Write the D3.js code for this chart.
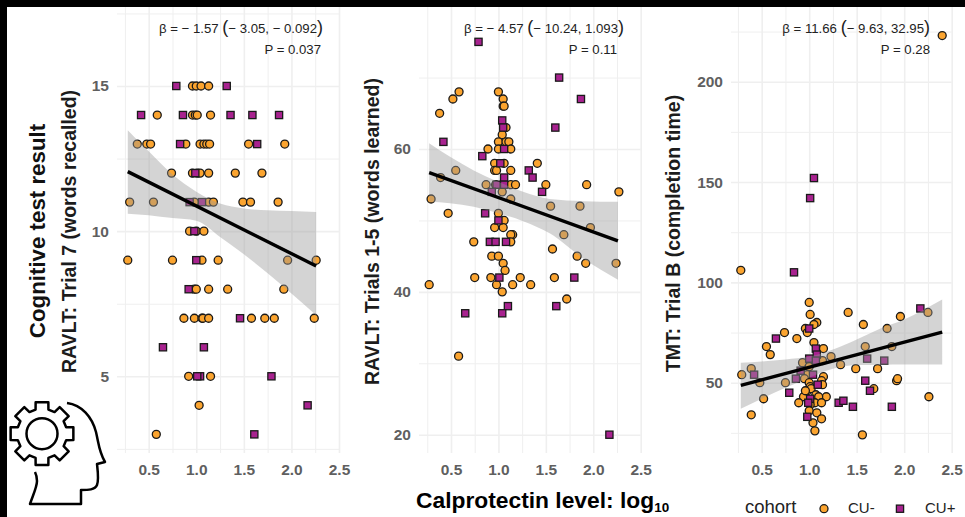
<!DOCTYPE html>
<html>
<head>
<meta charset="utf-8">
<script src="https://cdnjs.cloudflare.com/ajax/libs/d3/7.8.5/d3.min.js"></script>
<style>
html, body { margin: 0; padding: 0; background: #fff; }
svg { display: block; font-family: "Liberation Sans", Arial, sans-serif; }
</style>
</head>
<body>
<div id="chart"></div>
<script>
// Values: [log10 calprotectin, test result]
const trial7Neg = [[.96,15],[1,15],[1.05,15],[1.13,15],[.59,14],[.96,14],[.99,14],[1.01,14],[1.15,14],
  [.38,13],[.48,13],[.52,13],[.89,13],[1.04,13],[1.08,13],[1.11,13],[1.14,13],[1.55,13],[1.93,13],
  [.74,12],[.96,12],[1.01,12],[1.04,12],[1.13,12],[1.41,12],[1.69,12],
  [.3,11],[.55,11],[.98,11],[1.13,11],[1.18,11],[1.49,11],[1.57,11],[1.86,11],
  [.93,10],[1,10],[1.08,10],
  [.28,9],[.75,9],[1.06,9],[1.23,9],[1.96,9],[2.26,9],
  [.98,8],[1,8],[1.13,8],[1.33,8],[1.92,8],
  [.87,7],[.98,7],[1.06,7],[1.07,7],[1.13,7],[1.58,7],[1.72,7],[1.82,7],[2.24,7],
  [.92,5],[1.15,5],[1.03,4],[.58,3]];
const trial7Pos = [[.79,15],[1.32,15],[.42,14],[.86,14],[1.36,14],[1.59,14],[1.87,14],[.83,13],[1.64,13],
  [.99,12],[.93,11],[1.06,11],[.98,10],[1,9],[.92,8],[1.46,7],[.65,6],[1.08,6],
  [1.04,5],[1.01,5],[1.79,5],[2.17,4],[1.61,3]];
const trial7Line = [[.28,12.05],[2.26,8.8]];
const trial7Band = [[.28,13.48,10.6],[.5,12.75,10.55],[.75,11.95,10.45],[1,11.36,10.36],[1.25,10.95,9.8],
  [1.5,10.78,9.2],[1.75,10.72,8.55],[2,10.69,7.85],[2.26,10.66,7.1]];

const trials15Neg = [[.585,68],[.52,67],[.38,65],[1,68],[1.05,67],[1.05,66],[1.06,66],[1.08,63],[1.04,62],
  [1,61],[1.08,61],[1.11,61],[.89,60],[1,60],[1.13,60],[.96,58],[1.06,58],[1.41,58],[.96,57],[.98,57],
  [1.13,57],[.55,57],[.39,56],[.87,55],[.97,55],[1.13,55],[1.18,55],[1.5,55],[1.93,55],[2.27,54],[1.04,54],
  [.29,53],[1.13,53],[1.55,52],[1.86,52],[.47,51],[1,51],[1.06,50],[.96,49],[1.05,49],[1.97,49],[1.69,48],
  [1.15,48],[1.13,48],[.74,47],[1.13,47],[1.57,46],[1.83,45],[.93,45],[1,45],[1.92,44],[2.24,44],[1.05,44],
  [1.07,43],[.75,42],[.92,42],[1.23,42],[1.59,42],[.27,41],[.98,41],[1.15,41],[1.34,41],[1.04,40],[1.72,39],[.58,31]];
const trials15Pos = [[.79,75],[1.64,70],[1.87,67],[1.04,64],[1.05,63],[1.6,63],[.42,61],[1.06,60],[.83,59],
  [1.02,58],[1.32,57],[1.06,56],[1.36,56],[.98,55],[1.06,55],[.93,54],[1.46,54],[.86,51],[1,50],[.91,47],
  [.97,47],[1.08,47],[1.01,42],[1.8,42],[1.1,38],[1.61,38],[.65,37],[1.04,37],[2.17,20]];
const trials15Line = [[.27,56.7],[2.26,47.15]];
const trials15Band = [[.27,60.8,52.6],[.49,58.9,52.4],[.74,57,51.9],[1,55.4,51],[1.26,54,49.9],[1.54,53,48.2],
  [1.9,52.7,44.6],[2.26,52.6,41.7]];

const trailNeg = [[2.4,223],[.28,106],[1,90],[1.41,85],[1.01,84],[1.96,83],[2.25,85],[1.08,80],[1.05,79],[1.57,79],
  [.96,77],[1.82,77],[.74,75],[.98,75],[.87,72],[1.05,70],[.55,68],[1.15,67],[1.59,68],[1.87,68],[.59,64],[1.23,63],
  [.39,57],[.93,60],[1.14,61],[1.33,59],[1,58],[1.49,57],[1.72,57],[.29,54],[.98,54],[1.15,53],[.48,50],[.75,50],
  [.95,52],[1.13,51],[1.92,51],[1.93,52],[1,50],[1.01,48],[1.14,49],[1.68,47],[.98,46],[1.02,47],[1.07,44],[.94,43],
  [1.18,43],[1.1,43],[.52,42],[2.26,43],[.89,40],[1.06,40],[1.13,40],[1.01,39],[1,36],[1.08,35],[.39,34],[1.13,32],
  [1.04,30],[1.06,26],[1.56,24],[.96,46]];
const trailPos = [[.84,105],[1.05,152],[1.01,142],[2.17,87],[1,77],[.65,72],[1.07,67],[1.08,64],[1,62],[1.07,61],
  [1.61,62],[1.79,61],[.42,54],[.91,56],[1.04,54],[.86,52],[1.59,51],[1.09,49],[1.64,46],[.79,45],[1.01,42],[.99,40],
  [1.31,40],[1.36,41],[1.46,38],[1.87,38],[.98,33]];
const trailLine = [[.28,48.7],[2.4,75.2]];
const trailBand = [[.28,60,37],[.5,60.6,42],[.75,61.6,47.5],[1,63,52.5],[1.25,66.5,57],[1.5,71.5,58.8],
  [1.75,77,59],[2,81.5,59.1],[2.4,91.4,59.1]];

const xMajor = [0.5, 1, 1.5, 2, 2.5];
const xMinor = [0.25, 0.75, 1.25, 1.75, 2.25];

const panels = [
  { neg: trial7Neg, pos: trial7Pos, line: trial7Line, band: trial7Band,
    xr: [148.7, 339], left: 117,
    yd: [5, 15], yr: [376.3, 86], yMajor: [5, 10, 15], yMinor: [2.5, 7.5, 12.5, 17.5],
    title: "RAVLT: Trial 7 (words recalled)", titleX: 76, titleY: 231.5,
    beta: ["β = − 1.57 ", "(", "− 3.05, − 0.092", ")"], betaX: 323, pText: "P = 0.037", pX: 321 },
  { neg: trials15Neg, pos: trials15Pos, line: trials15Line, band: trials15Band,
    xr: [451, 640.7], left: 419,
    yd: [20, 60], yr: [434.7, 149], yMajor: [20, 40, 60], yMinor: [30, 50, 70],
    title: "RAVLT: Trials 1-5 (words learned)", titleX: 379, titleY: 231.5,
    beta: ["β = − 4.57 ", "(", "− 10.24, 1.093", ")"], betaX: 624, pText: "P = 0.11", pX: 617 },
  { neg: trailNeg, pos: trailPos, line: trailLine, band: trailBand,
    xr: [761.7, 951.7], left: 731,
    yd: [50, 200], yr: [382.7, 81.7], yMajor: [50, 100, 150, 200], yMinor: [25, 75, 125, 175, 225],
    title: "TMT: Trial B (completion time)", titleX: 680, titleY: 233.5,
    beta: ["β = 11.66 ", "(", "− 9.63, 32.95", ")"], betaX: 930, pText: "P = 0.28", pX: 930 }
];

const width = 965, height = 517;
const panelTop = 7, panelBottom = 453;
const orange = "#fba42f", purple = "#a8228f";

const svg = d3.select("#chart").append("svg")
  .attr("width", width)
  .attr("height", height);

function drawGrid(g, axis, strokeWidth) {
  g.call(axis);
  g.select(".domain").remove();
  g.selectAll("text").remove();
  g.selectAll("line").attr("stroke", "#efefef").attr("stroke-width", strokeWidth);
}

function drawLabels(g, axis) {
  g.call(axis);
  g.select(".domain").remove();
  g.selectAll("line").remove();
  g.selectAll("text")
    .attr("fill", "#5f5f5f")
    .attr("font-size", 15.5)
    .attr("font-weight", "bold")
    .attr("font-family", "'Liberation Sans', Arial, sans-serif");
}

function drawCircles(g, rows, x, y) {
  g.selectAll(null)
    .data(rows)
    .join("circle")
    .attr("cx", d => x(d[0]))
    .attr("cy", d => y(d[1]))
    .attr("r", 4)
    .attr("fill", orange)
    .attr("stroke", "#1a1a1a")
    .attr("stroke-width", 1.3);
}

function drawSquares(g, rows, x, y) {
  g.selectAll(null)
    .data(rows)
    .join("rect")
    .attr("x", d => x(d[0]) - 3.6)
    .attr("y", d => y(d[1]) - 3.6)
    .attr("width", 7.2)
    .attr("height", 7.2)
    .attr("fill", purple)
    .attr("stroke", "#1a1a1a")
    .attr("stroke-width", 1.3);
}

function drawPanel(p) {
  const x = d3.scaleLinear().domain([0.5, 2.5]).range(p.xr);
  const y = d3.scaleLinear().domain(p.yd).range(p.yr);
  const right = p.xr[1];
  const g = svg.append("g");

  // gridlines
  drawGrid(g.append("g").attr("transform", `translate(0,${panelBottom})`),
    d3.axisBottom(x).tickValues(xMinor).tickSize(panelTop - panelBottom), 1);
  drawGrid(g.append("g").attr("transform", `translate(${p.left},0)`),
    d3.axisLeft(y).tickValues(p.yMinor).tickSize(p.left - right), 1);
  drawGrid(g.append("g").attr("transform", `translate(0,${panelBottom})`),
    d3.axisBottom(x).tickValues(xMajor).tickSize(panelTop - panelBottom), 1.6);
  drawGrid(g.append("g").attr("transform", `translate(${p.left},0)`),
    d3.axisLeft(y).tickValues(p.yMajor).tickSize(p.left - right), 1.6);

  // tick labels
  drawLabels(g.append("g").attr("transform", `translate(0,${panelBottom + 8})`),
    d3.axisBottom(x).tickValues(xMajor).tickSize(0).tickPadding(3).tickFormat(d3.format(".1f")));
  drawLabels(g.append("g").attr("transform", `translate(${p.left},0)`),
    d3.axisLeft(y).tickValues(p.yMajor).tickSize(0).tickPadding(8));

  drawCircles(g.append("g"), p.neg, x, y);
  drawSquares(g.append("g"), p.pos, x, y);

  // confidence band then fit line
  const band = d3.area()
    .x(d => x(d[0]))
    .y0(d => y(d[2]))
    .y1(d => y(d[1]))
    .curve(d3.curveMonotoneX);
  g.append("path")
    .attr("d", band(p.band))
    .attr("fill", "#999999")
    .attr("fill-opacity", 0.42);

  const fit = d3.line().x(d => x(d[0])).y(d => y(d[1]));
  g.append("path")
    .attr("d", fit(p.line))
    .attr("fill", "none")
    .attr("stroke", "#000")
    .attr("stroke-width", 3.4);

  // y title
  g.append("text")
    .attr("transform", `translate(${p.titleX},${p.titleY}) rotate(-90)`)
    .attr("text-anchor", "middle")
    .attr("font-size", 19.5)
    .attr("font-weight", "bold")
    .attr("fill", "#1c1c1c")
    .text(p.title);

  // statistics annotation
  const beta = g.append("text")
    .attr("x", p.betaX)
    .attr("y", 33)
    .attr("text-anchor", "end")
    .attr("font-size", 13.2)
    .attr("fill", "#222");
  beta.append("tspan").text(p.beta[0]);
  beta.append("tspan").attr("font-size", 18).attr("font-weight", "300").text(p.beta[1]);
  beta.append("tspan").text(p.beta[2]);
  beta.append("tspan").attr("font-size", 18).attr("font-weight", "300").text(p.beta[3]);

  g.append("text")
    .attr("x", p.pX)
    .attr("y", 54)
    .attr("text-anchor", "end")
    .attr("font-size", 13.2)
    .attr("fill", "#222")
    .text(p.pText);
}

panels.forEach(drawPanel);

// main y title
svg.append("text")
  .attr("transform", "translate(45,231) rotate(-90)")
  .attr("text-anchor", "middle")
  .attr("font-size", 22.3)
  .attr("font-weight", "bold")
  .attr("fill", "#111")
  .text("Cognitive test result");

// x title
const xTitle = svg.append("text")
  .attr("x", 416)
  .attr("y", 508)
  .attr("font-size", 22.8)
  .attr("font-weight", "bold")
  .attr("fill", "#000")
  .text("Calprotectin level: log");
xTitle.append("tspan").attr("font-size", 13.5).attr("dy", 4).text("10");

// legend
svg.append("text").attr("x", 745).attr("y", 512.5).attr("font-size", 18.5).attr("fill", "#222").text("cohort");
drawCircles(svg.append("g"), [[824, 508.7]], d => d, d => d);
svg.append("text").attr("x", 848).attr("y", 513).attr("font-size", 15).attr("fill", "#222").text("CU-");
drawSquares(svg.append("g"), [[900, 508.7]], d => d, d => d);
svg.append("text").attr("x", 925).attr("y", 513).attr("font-size", 15).attr("fill", "#222").text("CU+");

// head with gear icon
const icon = svg.append("g").attr("fill", "none").attr("stroke", "#000").attr("stroke-width", 2.5);
icon.append("path")
  .attr("stroke-linejoin", "round")
  .attr("d", "M67,403 C82,405 92,417 96,432 C99,445 99,452 105,462 L97,464 C98,473 99,480 97,485 C95,490 88,490 81,490 L81,504 L30,504 C33,495 37,487 37,481 C37,477 36,474 35,472");
icon.append("circle").attr("cx", 42).attr("cy", 433.7).attr("r", 15.5);

// gear outline built from eight teeth
const gearPoints = [];
d3.range(8).forEach(i => {
  const a = (i * Math.PI) / 4;
  [[25, -0.26], [32, -0.2], [32, 0.2], [25, 0.26]].forEach(([r, da]) => {
    gearPoints.push([r * Math.sin(a + da), -r * Math.cos(a + da)]);
  });
});
icon.append("path")
  .attr("transform", "translate(42,433.7)")
  .attr("stroke-linejoin", "round")
  .attr("d", d3.line().curve(d3.curveLinearClosed)(gearPoints));

// black strips along the top and left edges of the screenshot
svg.append("rect").attr("x", 0).attr("y", 0).attr("width", width).attr("height", 7).attr("fill", "#000");
svg.append("rect").attr("x", 0).attr("y", 0).attr("width", 7).attr("height", height).attr("fill", "#000");
</script>
</body>
</html>
